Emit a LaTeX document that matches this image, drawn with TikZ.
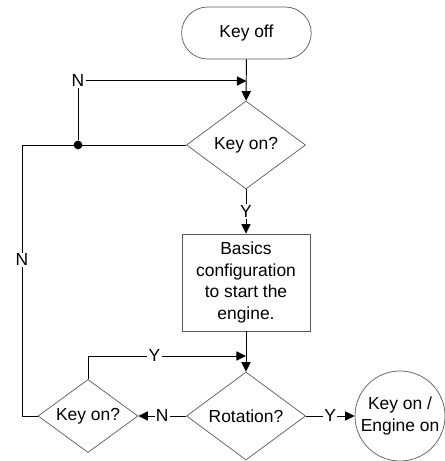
\documentclass[tikz,border=0pt]{standalone}
\usepackage{fontspec}
\setmainfont{Liberation Sans}
\usetikzlibrary{shapes.geometric,shapes.misc,arrows.meta}

\begin{document}
\begin{tikzpicture}[
    every node/.style={font=\fontsize{12.4}{15.2}\selectfont},
    shp/.style={draw=black!65, line width=0.5pt},
    decision/.style={shp, diamond, inner sep=0pt, aspect=1.35},
    lbl/.style={fill=white, inner sep=1pt},
    arr/.style={-{Triangle[length=2.4mm,width=2.3mm]}},
    conn/.style={line width=0.7pt}]
  \useasboundingbox (0,0) rectangle (11.125,11.525);

  \node (keyoff) at (6.16,10.7) [shp, rounded rectangle, minimum width=3.475cm, minimum height=1.3cm] {Key off};
  \node (keyon) at (6.15,7.9) [decision, minimum width=2.975cm, minimum height=2.2cm] {Key on?};
  \node (basics) at (6.15,4.4625) [shp, rectangle, align=center, inner sep=0pt, minimum width=3.2cm, minimum height=2.425cm] {Basics\\configuration\\to start the\\engine.};
  \node (rotation) at (6.15,1.125) [decision, minimum width=2.975cm, minimum height=2.2cm] {Rotation?};
  \node (keyontwo) at (2.2,1.125) [decision, minimum width=2.5cm, minimum height=1.825cm] {Key on?};
  \node (engineon) at (10.0,1.125) [shp, circle, align=center, inner sep=0pt, minimum size=2.25cm] {Key on /\\Engine on};

  \node (joint) at (1.95,7.9) [fill,circle,inner sep=2.2pt] {};
  \coordinate (nturn) at (1.95,9.5);
  \coordinate (ltop) at (0.55,7.9);
  \coordinate (lbot) at (0.55,1.125);
  \coordinate (yturn) at (2.2,2.625);

\draw[conn, arr] (keyoff) -- (keyon);
\draw[conn, arr] (keyon) -- node[lbl] {Y} (basics);
\draw[conn, arr] (basics) -- (rotation);
\draw[conn, arr] (rotation) -- node[lbl] {N} (keyontwo);
\draw[conn, arr] (rotation) -- node[lbl] {Y} (engineon);

\draw[conn]
   (keyon.west) -- (ltop) -- (lbot) -- (keyontwo.west);
\draw[conn, arr]
   (joint) -- (nturn) -- (keyoff |- nturn);
\draw[conn, arr]
   (keyontwo.north) -- (yturn) -- node[lbl, pos=0.42] {Y} (rotation |- yturn);

 \node (nleft) at (0.55,5.025) [lbl] {N};
 \node (ncorner) at (nturn) [lbl] {N};

\end{tikzpicture}
\end{document}
